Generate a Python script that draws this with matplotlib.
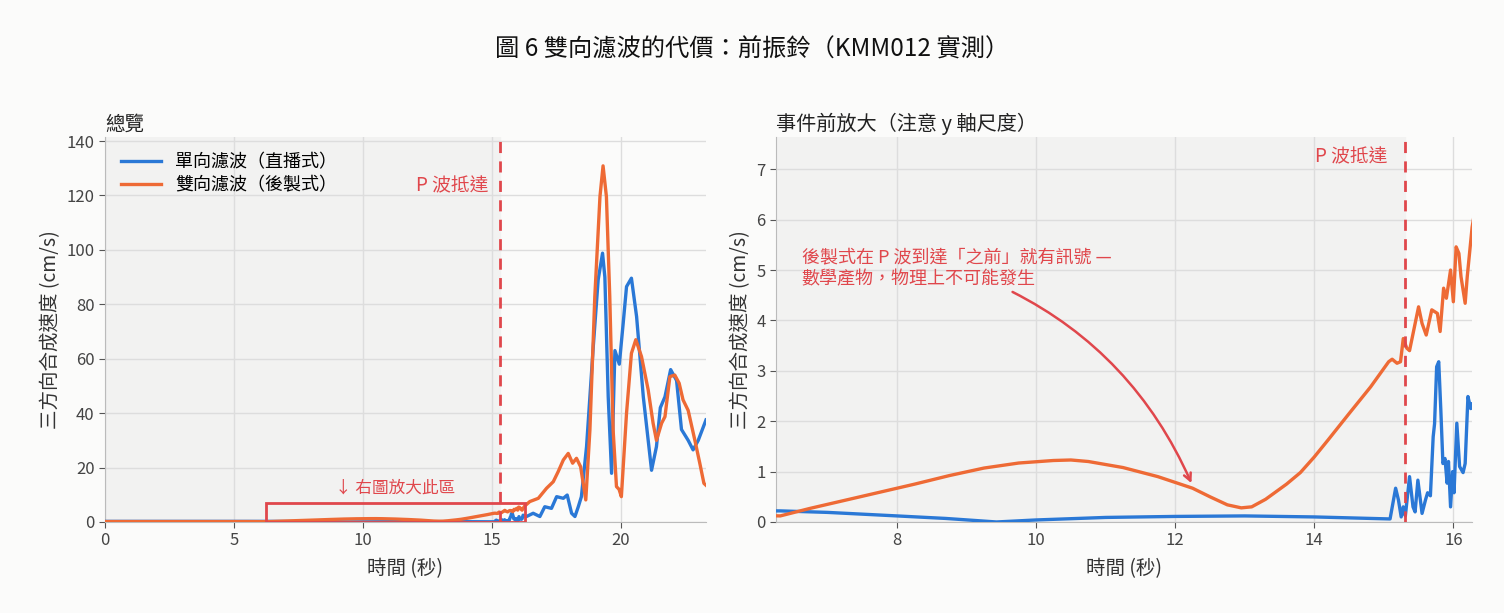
import matplotlib
matplotlib.use("Agg")
import matplotlib.pyplot as plt
from matplotlib.patches import Rectangle

plt.rcParams['font.family'] = ['Noto Sans CJK TC', 'DejaVu Sans']

# 單向濾波（直播式）
one_t = [0.0, 3.0, 6.32, 7.0, 8.0, 8.7, 9.43, 10.0, 11.0, 12.0, 13.0, 14.0, 15.09,
         15.17, 15.21, 15.25, 15.28, 15.31, 15.37, 15.42, 15.45, 15.49, 15.55, 15.60,
         15.63, 15.67, 15.71, 15.73, 15.76, 15.79, 15.82, 15.85, 15.88, 15.91, 15.93,
         15.96, 15.99, 16.01, 16.05, 16.09, 16.14, 16.17, 16.21, 16.25, 16.27,
         16.34, 16.6, 16.86, 17.05, 17.31, 17.51, 17.77, 17.92, 18.09, 18.22, 18.35,
         18.47, 18.67, 18.93, 19.12, 19.29, 19.38, 19.51, 19.64, 19.77, 19.94, 20.09,
         20.22, 20.41, 20.61, 20.87, 21.19, 21.38, 21.53, 21.71, 21.93, 22.16, 22.35,
         22.61, 22.8, 23.0, 23.3]
one_v = [0.22, 0.22, 0.22, 0.19, 0.12, 0.07, 0.0, 0.04, 0.09, 0.11, 0.12, 0.1, 0.06,
         0.67, 0.44, 0.1, 0.3, 0.12, 0.9, 0.3, 0.2, 0.83, 0.17, 0.44,
         0.58, 0.52, 1.69, 1.95, 3.08, 3.18, 2.22, 1.16, 1.26, 0.77, 1.2,
         0.3, 1.0, 0.58, 1.96, 1.1, 0.98, 1.16, 2.49, 2.25, 2.35,
         2.0, 3.2, 2.0, 5.6, 5.0, 9.3, 8.7, 9.9, 3.2, 2.0, 5.6,
         9.3, 27.7, 64.4, 89.0, 98.8, 90.0, 46.0, 17.9, 63.0, 58.0, 73.0,
         86.5, 89.6, 75.5, 46.0, 19.0, 27.7, 42.0, 46.0, 56.0, 52.0, 34.0,
         30.0, 26.5, 30.0, 37.5]

# 雙向濾波（後製式）
two_t = [0.0, 3.0, 5.5, 6.32, 6.75, 7.25, 7.75, 8.25, 8.75, 9.25, 9.75, 10.25, 10.5,
         10.75, 11.25, 11.75, 12.25, 12.5, 12.75, 12.95, 13.1, 13.3, 13.6, 13.8, 14.0,
         14.2, 14.5, 14.81, 15.07, 15.12, 15.19, 15.24, 15.28, 15.33, 15.37, 15.50,
         15.55, 15.61, 15.69, 15.77, 15.81, 15.86, 15.90, 15.96, 16.0, 16.04, 16.08,
         16.11, 16.17, 16.2, 16.27,
         16.47, 16.8, 17.12, 17.38, 17.57, 17.77, 17.96, 18.13, 18.28, 18.44, 18.64,
         18.8, 18.99, 19.19, 19.31, 19.44, 19.57, 19.7, 19.83, 19.93, 20.02, 20.22,
         20.41, 20.58, 20.8, 21.06, 21.25, 21.38, 21.58, 21.71, 21.9, 22.09, 22.26,
         22.41, 22.61, 22.87, 23.06, 23.22, 23.3]
two_v = [0.15, 0.15, 0.15, 0.12, 0.27, 0.43, 0.59, 0.75, 0.92, 1.07, 1.17, 1.22, 1.23,
         1.2, 1.08, 0.9, 0.67, 0.5, 0.34, 0.28, 0.3, 0.45, 0.75, 0.98, 1.29,
         1.63, 2.15, 2.68, 3.18, 3.23, 3.15, 3.18, 3.64, 3.45, 3.40, 4.27,
         3.94, 3.71, 4.21, 4.14, 3.78, 4.64, 4.44, 5.0, 4.37, 5.46, 5.33,
         4.87, 4.34, 4.87, 5.85,
         7.5, 8.7, 12.4, 14.8, 18.5, 22.8, 25.2, 21.6, 23.4, 20.3, 8.1,
         33.8, 82.8, 119.6, 130.9, 119.6, 82.8, 33.8, 13.0, 12.0, 9.3, 40.0,
         62.0, 67.0, 60.8, 48.5, 36.3, 30.0, 36.3, 38.7, 53.4, 54.0, 51.0,
         44.9, 41.0, 30.0, 21.6, 14.2, 13.5]

p_arrival = 15.3
zoom_window = (6.26, 16.27)
zoom_height = 7.0

BLUE = '#2a78d6'
ORANGE = '#ee6a35'
RED = '#e0474c'
SHADE = '#f2f2f1'
BG = '#fbfbfa'

fig = plt.figure(figsize=(15.04, 6.13), dpi=100, facecolor=BG)
ax1 = fig.add_axes([0.0698, 0.1485, 0.3996, 0.628])
ax2 = fig.add_axes([0.516, 0.1485, 0.4628, 0.628])

for ax in (ax1, ax2):
    ax.set_facecolor(BG)
    ax.grid(True, color='#dddddd', linewidth=1.0)
    ax.set_axisbelow(True)
    for s in ('top', 'right'):
        ax.spines[s].set_visible(False)
    for s in ('left', 'bottom'):
        ax.spines[s].set_color('#bbbbbb')
    ax.tick_params(colors='#444444', labelsize=12, length=4, color='#555555')
    ax.axvspan(-1, p_arrival, color=SHADE, zorder=0)
    ax.plot(one_t, one_v, color=BLUE, lw=2.4, label='單向濾波（直播式）', zorder=3)
    ax.plot(two_t, two_v, color=ORANGE, lw=2.4, label='雙向濾波（後製式）', zorder=3)
    ax.axvline(p_arrival, color=RED, ls=(0, (4, 3)), lw=2, zorder=4)
    ax.set_xlabel('時間 (秒)', fontsize=14, color='#333333', labelpad=6)
    ax.set_ylabel('三方向合成速度 (cm/s)', fontsize=14, color='#333333')

# 總覽
ax1.set_xlim(0, 23.3)
ax1.set_ylim(0, 141.5)
ax1.set_xticks([0, 5, 10, 15, 20])
ax1.set_yticks(range(0, 141, 20))
ax1.set_title('總覽', loc='left', fontsize=14, color='#222222', pad=5)
ax1.legend(loc='upper left', frameon=False, fontsize=13, handlelength=2.2,
           borderaxespad=0.5, labelspacing=0.3)
ax1.text(p_arrival - 0.45, 123.5, 'P 波抵達', color=RED, fontsize=13.5,
         ha='right', va='center')
ax1.add_patch(Rectangle((zoom_window[0], 0), zoom_window[1] - zoom_window[0],
                        zoom_height, fill=False, edgecolor=RED, lw=2, zorder=5))
ax1.text((zoom_window[0] + zoom_window[1]) / 2, zoom_height + 2.2, '↓ 右圖放大此區',
         color=RED, fontsize=12, ha='center', va='bottom')

# 事件前放大
ax2.set_xlim(*zoom_window)
ax2.set_ylim(0, 7.64)
ax2.set_xticks([8, 10, 12, 14, 16])
ax2.set_yticks(range(0, 8))
ax2.set_title('事件前放大（注意 y 軸尺度）', loc='left', fontsize=14.5,
              color='#222222', pad=5)
ax2.text(p_arrival - 0.25, 7.24, 'P 波抵達', color=RED, fontsize=13.5,
         ha='right', va='center')
ax2.annotate('後製式在 P 波到達「之前」就有訊號 —\n數學產物，物理上不可能發生',
             xy=(12.25, 0.72), xytext=(6.63, 5.03), color=RED, fontsize=13,
             ha='left', va='center', linespacing=1.2,
             arrowprops=dict(arrowstyle='->', color=RED, lw=1.8,
                             connectionstyle='arc3,rad=-0.22'))

fig.suptitle('圖 6 雙向濾波的代價：前振鈴（KMM012 實測）', fontsize=17.5,
             y=0.94, color='#111111')

fig.savefig('out.png', dpi=100, facecolor=BG)
